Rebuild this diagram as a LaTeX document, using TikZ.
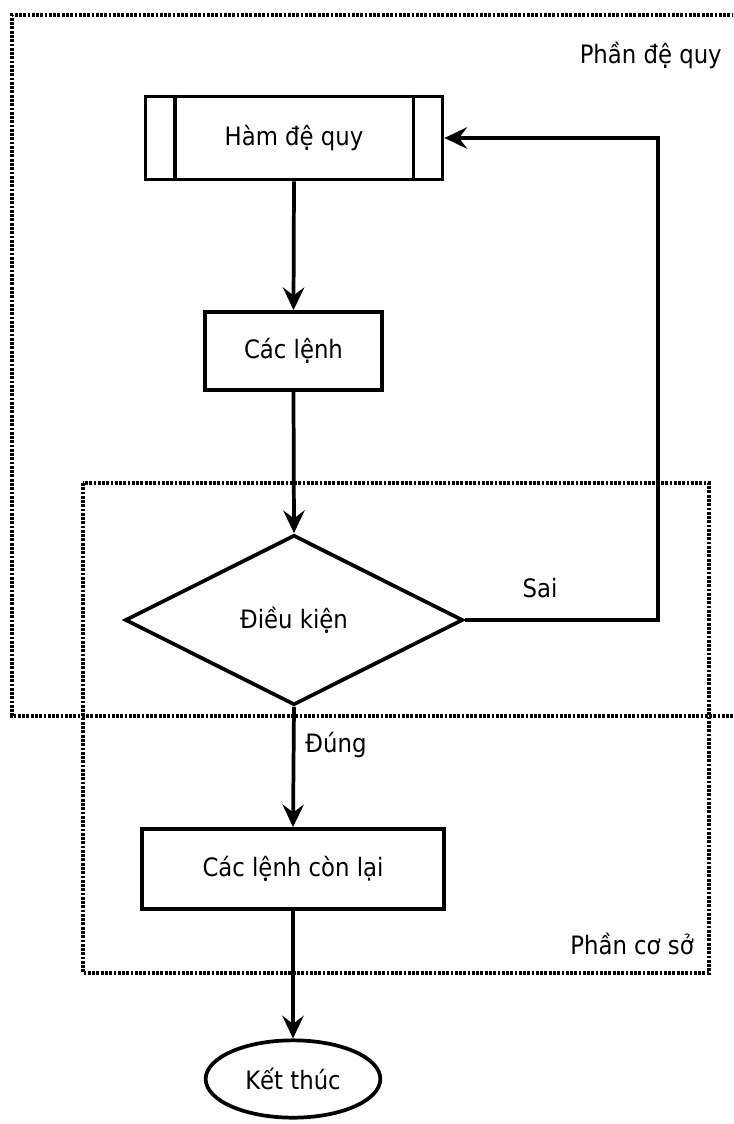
\documentclass[tikz,border=0pt]{standalone}
\usepackage{fontspec}
\setmainfont{DejaVu Sans Condensed}
\usetikzlibrary{shapes.geometric,arrows.meta}
\tikzset{
  px/.style={x=0.75pt,y=-0.75pt},
  boxnode/.style={draw,line width=2.8pt,inner sep=0pt,font=\fontsize{19}{21}\selectfont},
  flow/.style={line width=2.8pt,-{Stealth[length=17pt,width=16pt,inset=6pt]}},
  plain/.style={line width=2.8pt},
  region/.style={line width=2.5pt,dash pattern=on 2.1pt off 1.1pt},
  tag/.style={inner sep=0pt,font=\fontsize{19}{21}\selectfont}
}
\begin{document}
\begin{tikzpicture}[px]
\useasboundingbox (0,0) rectangle (733,1124);
\fill[white] (0,0) rectangle (733,1124);

% dotted regions
\begin{scope}
  \clip (0,0) rectangle (733,1124);
  \draw[region] (760,15) -- (12,15) -- (12,716) -- (760,716);
  \draw[region] (83,483) rectangle (709,973);
\end{scope}
\node[tag,anchor=east] (tdq) at (722,55) {Phần đệ quy};
\node[tag,anchor=east] (tcs) at (694,944) {Phần cơ sở};

% flowchart nodes
\node[boxnode,minimum width=222.75pt,minimum height=62.25pt] (ham) at (294,138) {Hàm đệ quy};
\draw[plain] ([xshift=23.25pt]ham.north west) -- ([xshift=23.25pt]ham.south west);
\draw[plain] ([xshift=-23.25pt]ham.north east) -- ([xshift=-23.25pt]ham.south east);

\node[boxnode,minimum width=132.75pt,minimum height=58.5pt] (cl) at (293.5,351) {Các lệnh};
\node[boxnode,diamond,aspect=2,minimum width=253.5pt,minimum height=127.5pt] (dk) at (294,620) {Điều kiện};
\node[boxnode,minimum width=227pt,minimum height=60pt] (conlai) at (293,869) {Các lệnh còn lại};
\node[boxnode,ellipse,minimum width=131pt,minimum height=58pt] (kt) at (293,1079) {Kết thúc};

\coordinate (corner1) at (658,620);
\coordinate (corner2) at (658,138);

% connectors
\draw[flow] (ham.south) -- (cl.north);
\draw[flow] (cl.south) -- (dk.north);
\draw[flow] (dk.south) -- (conlai.north);
\draw[flow] (conlai.south) -- (kt.north);
\draw[flow] (dk.east) -- (corner1) -- (corner2) -- (ham.east);

\node[tag] (sai) at (540,588) {Sai};
\node[tag] (dung) at (336,745) {Đúng};
\end{tikzpicture}
\end{document}
